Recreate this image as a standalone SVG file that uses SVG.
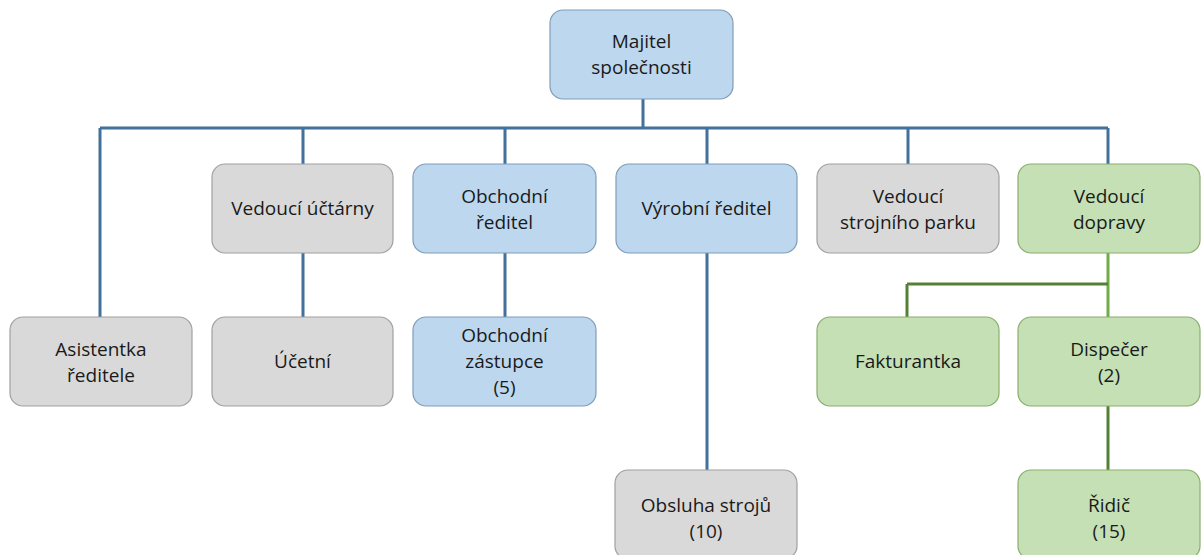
<svg xmlns="http://www.w3.org/2000/svg" width="1203" height="555" viewBox="0 0 1203 555">
<style>
.box{stroke-width:1.2}
.blue{fill:#BDD7EE;stroke:#7F9DB9}
.gray{fill:#D9D9D9;stroke:#A0A0A0}
.green{fill:#C5E0B4;stroke:#8AAE6E}
text{font-family:"Open Sans","Liberation Sans",sans-serif;font-size:19px;fill:#1a1a1a;text-anchor:middle}
.cb{stroke:#41719C;stroke-width:3;fill:none}
.cgd{stroke:#548235;stroke-width:3;fill:none}
.cgl{stroke:#70AD47;stroke-width:3;fill:none}
</style>
<rect width="1203" height="555" fill="#ffffff"/>
<g id="connectors">
<path class="cb" d="M643 99V128M100 128H1108M303 128V164M505 128V164M707 128V164M908 128V164M1108 128V164M100 128V317M303 253V317M505 253V317M707 253V470"/>
<path class="cgl" d="M1108 253V317"/>
<path class="cgd" d="M907 284H1108M907 284V317M1108 406V470"/>
</g>
<g id="n-majitel"><rect class="box blue" x="550" y="10" width="183" height="89" rx="13"/><text x="641.5" y="48">Majitel</text><text x="641.5" y="74">společnosti</text></g>
<g id="n-ucetni-vedouci"><rect class="box gray" x="212" y="164" width="181" height="89" rx="13"/><text x="302.5" y="215">Vedoucí účtárny</text></g>
<g id="n-obchodni-reditel"><rect class="box blue" x="413" y="164" width="183" height="89" rx="13"/><text x="504.5" y="203">Obchodní</text><text x="504.5" y="229">ředitel</text></g>
<g id="n-vyrobni-reditel"><rect class="box blue" x="616" y="164" width="181" height="89" rx="13"/><text x="706.5" y="215">Výrobní ředitel</text></g>
<g id="n-strojni-park"><rect class="box gray" x="817" y="164" width="182" height="89" rx="13"/><text x="908" y="203">Vedoucí</text><text x="908" y="229">strojního parku</text></g>
<g id="n-doprava"><rect class="box green" x="1018" y="164" width="182" height="89" rx="13"/><text x="1109" y="203">Vedoucí</text><text x="1109" y="229">dopravy</text></g>
<g id="n-asistentka"><rect class="box gray" x="10" y="317" width="182" height="89" rx="13"/><text x="101" y="356">Asistentka</text><text x="101" y="382">ředitele</text></g>
<g id="n-ucetni"><rect class="box gray" x="212" y="317" width="181" height="89" rx="13"/><text x="302.5" y="368">Účetní</text></g>
<g id="n-obchodni-zastupce"><rect class="box blue" x="413" y="317" width="183" height="89" rx="13"/><text x="504.5" y="342">Obchodní</text><text x="504.5" y="368">zástupce</text><text x="504.5" y="394">(5)</text></g>
<g id="n-fakturantka"><rect class="box green" x="817" y="317" width="182" height="89" rx="13"/><text x="908" y="368">Fakturantka</text></g>
<g id="n-dispecer"><rect class="box green" x="1018" y="317" width="182" height="89" rx="13"/><text x="1109" y="356">Dispečer</text><text x="1109" y="382">(2)</text></g>
<g id="n-obsluha"><rect class="box gray" x="615" y="470" width="182" height="89" rx="13"/><text x="706" y="512">Obsluha strojů</text><text x="706" y="538">(10)</text></g>
<g id="n-ridic"><rect class="box green" x="1018" y="470" width="182" height="89" rx="13"/><text x="1109" y="512">Řidič</text><text x="1109" y="538">(15)</text></g>
</svg>
